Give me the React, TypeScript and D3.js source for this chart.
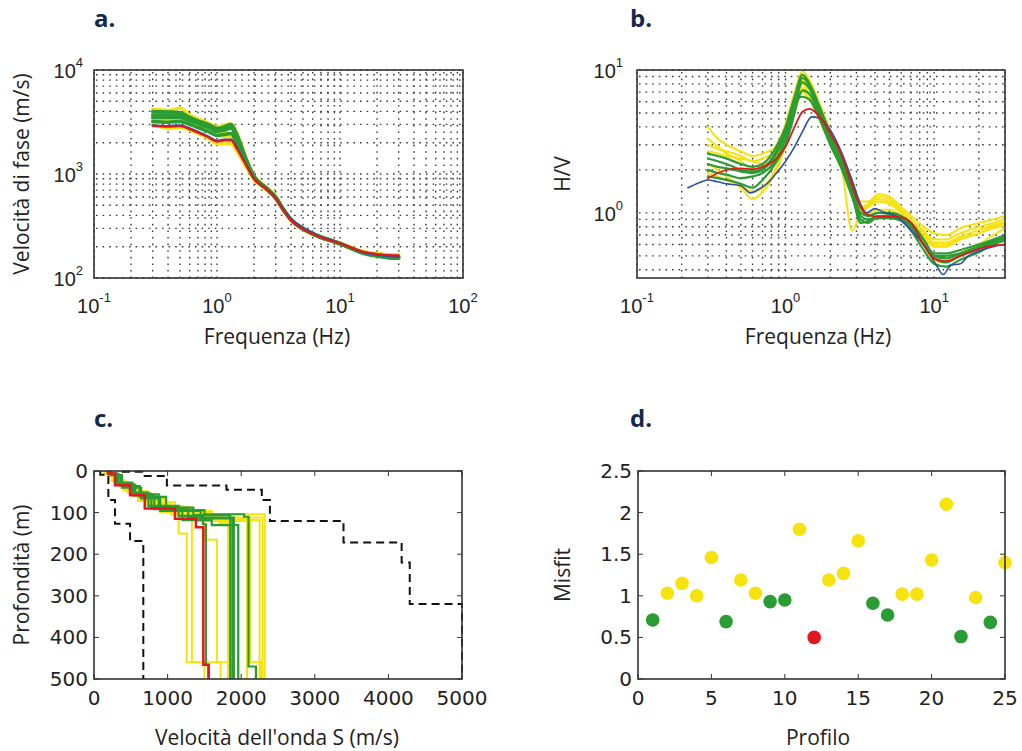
import React from 'react';
import * as d3 from 'd3';

// ---------- colours ----------
const YELLOW = '#f6e20c';
const GREEN = '#2a9c34';
const RED = '#e3171d';
const BLUE = '#2f4fa6';
const NAVY = '#14284b';

// ---------- panel a: phase velocity dispersion ----------
const freqA = [0.3, 0.4, 0.5, 0.6, 0.7, 0.85, 1.0, 1.15, 1.3, 1.45, 1.7, 2.0, 2.5, 3.0, 3.5, 4.0, 5.0, 6.0, 7.0, 8.5, 10, 12, 15, 20, 25, 30];
const yellowA = [
  [4200, 4100, 4300, 3700, 3400, 3100, 2850, 2950, 3050, 2500, 1500, 960, 760, 610, 455, 368, 302, 270, 250, 232, 218, 200, 182, 172, 168, 168],
  [3800, 3700, 3600, 3300, 3100, 2850, 2600, 2500, 2400, 2000, 1350, 920, 740, 600, 450, 364, 300, 268, 248, 230, 216, 199, 181, 171, 167, 166],
  [3000, 2750, 2800, 2650, 2450, 2200, 1950, 1950, 1950, 1650, 1200, 880, 710, 575, 438, 356, 292, 262, 243, 226, 211, 194, 176, 167, 163, 162],
  [3400, 3300, 3350, 3100, 2900, 2600, 2350, 2300, 2250, 1850, 1300, 900, 730, 590, 447, 362, 297, 266, 246, 229, 214, 197, 179, 169, 165, 164],
];
const greenA = [
  [4000, 3950, 3900, 3500, 3250, 3000, 2750, 2850, 3000, 2400, 1450, 950, 740, 600, 450, 365, 300, 268, 248, 230, 215, 195, 175, 162, 156, 155],
  [3700, 3700, 3650, 3350, 3150, 2900, 2650, 2750, 2850, 2300, 1400, 940, 735, 595, 447, 363, 299, 267, 247, 229, 214, 196, 176, 164, 158, 156],
  [3500, 3500, 3500, 3250, 3050, 2800, 2550, 2650, 2750, 2200, 1380, 930, 730, 590, 445, 362, 298, 266, 246, 229, 214, 196, 177, 165, 160, 158],
  [3200, 3150, 3200, 3000, 2800, 2550, 2350, 2400, 2450, 1950, 1320, 910, 725, 585, 443, 360, 296, 265, 245, 228, 213, 196, 178, 167, 162, 160],
];
const blueA = [2950, 2900, 2950, 2750, 2550, 2300, 2100, 2150, 2150, 1800, 1280, 910, 730, 590, 452, 372, 305, 272, 250, 232, 216, 198, 178, 166, 162, 160];
const redA = [2900, 2850, 2900, 2700, 2500, 2250, 2050, 2100, 2100, 1750, 1250, 900, 720, 580, 440, 360, 295, 265, 245, 228, 215, 198, 180, 170, 166, 165];

// ---------- panel b: H/V ----------
const freqB = [0.3, 0.35, 0.4, 0.5, 0.6, 0.7, 0.85, 1.0, 1.15, 1.3, 1.45, 1.7, 2.0, 2.4, 2.8, 3.2, 3.6, 4.2, 5, 6, 7, 8.5, 10, 12, 15, 20, 25, 30];
const yellowB = [
  [4.0, 3.3, 3.0, 2.7, 2.5, 2.6, 2.9, 4.2, 7.0, 9.8, 8.5, 5.8, 3.8, 2.5, 1.7, 1.2, 1.2, 1.35, 1.3, 1.1, 0.95, 0.8, 0.72, 0.7, 0.78, 0.85, 0.9, 0.95],
  [3.0, 2.8, 2.7, 2.5, 2.3, 2.4, 2.7, 3.9, 6.4, 9.0, 8.2, 5.6, 3.6, 2.3, 1.5, 1.05, 1.15, 1.3, 1.25, 1.05, 0.9, 0.75, 0.65, 0.65, 0.72, 0.8, 0.85, 0.9],
  [2.2, 2.0, 1.8, 1.5, 1.25, 1.4, 1.9, 3.0, 5.5, 8.5, 7.5, 5.0, 3.3, 2.0, 0.75, 1.0, 1.1, 1.2, 1.15, 1.0, 0.85, 0.68, 0.6, 0.6, 0.66, 0.72, 0.78, 0.82],
  [2.7, 2.6, 2.5, 2.4, 2.3, 2.2, 2.5, 3.4, 5.8, 8.0, 6.8, 4.6, 3.1, 2.1, 1.4, 1.1, 1.15, 1.25, 1.2, 1.05, 0.9, 0.72, 0.62, 0.62, 0.68, 0.76, 0.82, 0.86],
  [3.3, 2.9, 2.6, 2.3, 2.0, 2.1, 2.4, 3.2, 5.0, 7.0, 6.2, 4.4, 3.0, 2.0, 1.35, 1.0, 1.1, 1.2, 1.2, 1.0, 0.85, 0.68, 0.58, 0.58, 0.65, 0.72, 0.8, 0.85],
  [1.9, 1.8, 1.7, 1.55, 1.4, 1.5, 2.0, 3.1, 5.2, 7.5, 6.5, 4.8, 3.3, 2.2, 1.45, 1.0, 0.98, 1.05, 1.05, 0.95, 0.82, 0.6, 0.46, 0.45, 0.52, 0.6, 0.7, 0.78],
];
const greenB = [
  [2.6, 2.5, 2.4, 2.2, 2.1, 2.2, 2.8, 4.0, 6.5, 9.3, 8.0, 5.5, 3.6, 2.4, 1.6, 1.1, 0.95, 1.0, 1.0, 0.95, 0.85, 0.65, 0.5, 0.48, 0.52, 0.58, 0.63, 0.68],
  [2.2, 2.1, 2.05, 1.95, 1.9, 2.0, 2.5, 3.6, 5.8, 8.2, 7.4, 5.0, 3.4, 2.2, 1.45, 0.95, 0.9, 0.95, 0.95, 0.9, 0.8, 0.6, 0.48, 0.45, 0.5, 0.56, 0.62, 0.66],
  [2.0, 1.9, 1.85, 1.75, 1.8, 1.9, 2.3, 3.3, 5.2, 7.2, 6.8, 4.8, 3.2, 2.1, 1.35, 0.85, 0.88, 0.92, 0.92, 0.88, 0.75, 0.55, 0.44, 0.42, 0.47, 0.53, 0.6, 0.64],
  [2.4, 2.3, 2.2, 2.0, 1.95, 2.05, 2.6, 3.8, 6.0, 6.5, 6.2, 4.5, 3.0, 2.0, 1.3, 0.9, 0.85, 0.95, 0.95, 0.92, 0.82, 0.6, 0.5, 0.5, 0.52, 0.58, 0.64, 0.7],
  [1.8, 1.75, 1.7, 1.6, 1.5, 1.7, 2.2, 3.0, 5.0, 8.8, 7.8, 5.2, 3.5, 2.3, 1.5, 1.0, 0.95, 1.0, 0.98, 0.93, 0.85, 0.65, 0.52, 0.52, 0.55, 0.6, 0.65, 0.7],
];
const redB = [1.74, 1.9, 2.0, 2.05, 2.02, 2.1, 2.35, 2.9, 4.0, 5.1, 5.35, 4.7, 3.6, 2.5, 1.55, 1.1, 0.97, 0.94, 0.94, 0.93, 0.85, 0.6, 0.48, 0.46, 0.5, 0.56, 0.59, 0.6];
const freqBlueB = [0.22, 0.26, 0.3, 0.35, 0.4, 0.5, 0.58, 0.65, 0.75, 0.85, 1.0, 1.15, 1.3, 1.5, 1.7, 2.0, 2.4, 2.8, 3.2, 3.5, 4.0, 4.5, 5.5, 6.5, 7.5, 8.5, 9.5, 10.5, 11.5, 13, 15, 17, 20, 25, 30];
const blueB = [1.5, 1.62, 1.7, 1.65, 1.6, 1.55, 1.38, 1.45, 1.6, 1.85, 2.3, 2.9, 3.7, 4.7, 4.6, 3.8, 2.6, 1.7, 1.15, 1.0, 1.07, 1.02, 0.95, 0.82, 0.7, 0.6, 0.5, 0.42, 0.37, 0.43, 0.44, 0.5, 0.54, 0.58, 0.6];

// ---------- panel c: Vs profiles, layers as [velocity, bottom depth] ----------
const yellowC = [
  [[150, 5], [260, 22], [420, 42], [640, 68], [950, 95], [1350, 112], [2290, 500]],
  [[170, 7], [300, 28], [480, 48], [720, 75], [1100, 100], [1600, 118], [2250, 500]],
  [[140, 6], [240, 24], [400, 46], [600, 72], [900, 100], [1150, 150], [1260, 460], [1500, 500]],
  [[190, 9], [340, 34], [560, 58], [830, 88], [1250, 108], [1700, 125], [1820, 500]],
  [[160, 6], [290, 30], [470, 52], [760, 84], [1200, 110], [1500, 165], [1670, 460], [1900, 500]],
  [[180, 8], [320, 30], [540, 60], [900, 95], [1400, 120], [2080, 500]],
  [[150, 5], [270, 26], [450, 50], [700, 80], [1050, 105], [1330, 460], [1720, 500]],
  [[200, 10], [360, 36], [600, 64], [950, 96], [1600, 115], [2120, 460], [2270, 500]],
  [[165, 7], [310, 32], [500, 55], [800, 86], [1300, 104], [2320, 500]],
];
const greenC = [
  [[190, 6], [300, 30], [500, 52], [740, 84], [1150, 108], [1480, 128], [1520, 466], [1560, 500]],
  [[210, 8], [330, 33], [560, 56], [880, 88], [1350, 106], [1850, 500]],
  [[200, 7], [320, 32], [540, 58], [820, 92], [1280, 112], [1900, 500]],
  [[220, 9], [360, 36], [620, 62], [980, 94], [1500, 104], [2040, 110], [2100, 470], [2200, 500]],
  [[195, 6], [310, 28], [520, 55], [780, 90], [1200, 118], [1600, 130], [1960, 500]],
  [[230, 10], [380, 40], [640, 66], [900, 96], [1450, 114], [1880, 500]],
];
const redC = [[190, 6], [285, 34], [490, 58], [690, 90], [1100, 115], [1385, 135], [1485, 466], [1555, 500]];
const leftBoundC = [[85, 9], [195, 70], [285, 127], [490, 168], [670, 500]];
const rightBoundC = [[390, 2], [670, 12], [990, 35], [1800, 45], [2280, 70], [2390, 120], [3390, 172], [4180, 220], [4290, 320], [5000, 500]];

// ---------- panel d: misfit per profile ----------
const profiles = d3.range(1, 26);
const misfit = [0.71, 1.03, 1.15, 1.0, 1.46, 0.69, 1.19, 1.03, 0.93, 0.95, 1.8, 0.5, 1.19, 1.27, 1.66, 0.91, 0.77, 1.02, 1.02, 1.43, 2.1, 0.51, 0.98, 0.68, 1.4];
const misfitClass = ['g', 'y', 'y', 'y', 'y', 'g', 'y', 'y', 'g', 'g', 'y', 'r', 'y', 'y', 'y', 'g', 'g', 'y', 'y', 'y', 'y', 'g', 'y', 'g', 'y'];

const ticksA_x = [0.1, 1, 10, 100];
const ticksA_y = [100, 1000, 10000];
const ticksB_x = [0.1, 1, 10];
const ticksB_y = [1, 10];
const ticksC_x = [0, 1000, 2000, 3000, 4000, 5000];
const ticksC_y = [0, 100, 200, 300, 400, 500];
const ticksD_x = [0, 5, 10, 15, 20, 25];
const ticksD_y = [0, 0.5, 1, 1.5, 2, 2.5];

const TICK_FONT = '"Liberation Sans", Arial, sans-serif';
const TICK_FONT2 = '"DejaVu Sans", sans-serif';
const LABEL_FONT = '"Open Sans", sans-serif';

function logGridValues(lo: number, hi: number) {
  const out: number[] = [];
  for (let e = Math.floor(Math.log10(lo)); e <= Math.ceil(Math.log10(hi)); e++) {
    for (let k = 1; k <= 9; k++) {
      const v = k * Math.pow(10, e);
      if (v >= lo * 0.999 && v <= hi * 1.001) out.push(v);
    }
  }
  return out;
}

function Pow10({ x, y, v, anchor }: { x: number; y: number; v: number; anchor: string }) {
  const e = Math.round(Math.log10(v));
  return (
    <text x={x} y={y} textAnchor={anchor} fontFamily={TICK_FONT} fontSize={20} fill="#222">
      10<tspan dy={-11} fontSize={13}>{e}</tspan>
    </text>
  );
}

function LogPanel(props: any) {
  const { id, x, y, xTicks, yTicks, yLabelGap, children, xLabel, yLabel, xLabelX, yLabelX, title, titleX } = props;
  const [x0, x1] = x.range();
  const [y0, y1] = y.range(); // y0 bottom, y1 top
  const xd = x.domain();
  const yd = y.domain();
  const gx = logGridValues(xd[0], xd[1]);
  const gy = logGridValues(yd[0], yd[1]);
  return (
    <g>
      <defs>
        <clipPath id={id}>
          <rect x={x0} y={y1} width={x1 - x0} height={y0 - y1} />
        </clipPath>
      </defs>
      <rect x={x0} y={y1} width={x1 - x0} height={y0 - y1} fill="#fff" />
      <g stroke="#3a3a3a" strokeWidth={1.4} strokeDasharray="1.6,5">
        {gx.map((v: number) => (
          <line key={'gx' + v} x1={x(v)} x2={x(v)} y1={y1 + 2} y2={y0} />
        ))}
        {gy.map((v: number) => (
          <line key={'gy' + v} x1={x0 + 2} x2={x1} y1={y(v)} y2={y(v)} />
        ))}
      </g>
      <g clipPath={`url(#${id})`}>{children}</g>
      <rect x={x0} y={y1} width={x1 - x0} height={y0 - y1} fill="none" stroke="#333" strokeWidth={1.6} />
      {xTicks.map((v: number) => (
        <Pow10 key={'xt' + v} x={x(v)} y={y0 + 35} v={v} anchor="middle" />
      ))}
      {yTicks.map((v: number) => (
        <Pow10 key={'yt' + v} x={x0 - yLabelGap} y={y(v) + 8} v={v} anchor="end" />
      ))}
      <text x={xLabelX} y={y0 + 66} textAnchor="middle" fontFamily={LABEL_FONT} fontSize={21} fill="#222">{xLabel}</text>
      <text transform={`translate(${yLabelX},${(y0 + y1) / 2}) rotate(-90)`} textAnchor="middle" dy="0.35em" fontFamily={LABEL_FONT} fontSize={21} fill="#222">{yLabel}</text>
      <text x={titleX} y={27} fontFamily={LABEL_FONT} fontWeight={700} fontSize={24} fill={NAVY}>{title}</text>
    </g>
  );
}

function LinPanel(props: any) {
  const { x, y, xTicks, yTicks, xFmt, yFmt, children, xLabel, yLabel, xLabelX, yLabelX, title, titleX } = props;
  const [x0, x1] = x.range();
  const yr = y.range();
  const top = Math.min(yr[0], yr[1]);
  const bot = Math.max(yr[0], yr[1]);
  const tl = 5;
  return (
    <g>
      <rect x={x0} y={top} width={x1 - x0} height={bot - top} fill="#fff" />
      {children}
      <g stroke="#333" strokeWidth={1}>
        {xTicks.map((v: number) => (
          <g key={'xt' + v}>
            <line x1={x(v)} x2={x(v)} y1={bot} y2={bot - tl} />
            <line x1={x(v)} x2={x(v)} y1={top} y2={top + tl} />
          </g>
        ))}
        {yTicks.map((v: number) => (
          <g key={'yt' + v}>
            <line x1={x0} x2={x0 + tl} y1={y(v)} y2={y(v)} />
            <line x1={x1} x2={x1 - tl} y1={y(v)} y2={y(v)} />
          </g>
        ))}
      </g>
      <rect x={x0} y={top} width={x1 - x0} height={bot - top} fill="none" stroke="#333" strokeWidth={1.6} />
      {xTicks.map((v: number) => (
        <text key={'xl' + v} x={x(v)} y={bot + 26} textAnchor="middle" fontFamily={TICK_FONT2} fontSize={20} fill="#222">{xFmt(v)}</text>
      ))}
      {yTicks.map((v: number) => (
        <text key={'yl' + v} x={x0 - 6} y={y(v) + 7} textAnchor="end" fontFamily={TICK_FONT2} fontSize={20} fill="#222">{yFmt(v)}</text>
      ))}
      <text x={xLabelX} y={bot + 66} textAnchor="middle" fontFamily={LABEL_FONT} fontSize={21} fill="#222">{xLabel}</text>
      <text transform={`translate(${yLabelX},${(top + bot) / 2}) rotate(-90)`} textAnchor="middle" dy="0.35em" fontFamily={LABEL_FONT} fontSize={21} fill="#222">{yLabel}</text>
      <text x={titleX} y={top - 44} fontFamily={LABEL_FONT} fontWeight={700} fontSize={24} fill={NAVY}>{title}</text>
    </g>
  );
}

function stepPoints(layers: number[][]) {
  const pts: [number, number][] = [];
  let prev = 0;
  layers.forEach(([v, d]) => {
    pts.push([v, prev]);
    pts.push([v, d]);
    prev = d;
  });
  return pts;
}

export default function App() {
  // panel a
  const xA = d3.scaleLog().domain([0.1, 100]).range([94, 463]);
  const yA = d3.scaleLog().domain([100, 10000]).range([278, 70]);
  const lineA = (vals: number[]) =>
    d3.line<number>().x((_, i) => xA(freqA[i])).y((v) => yA(v)).curve(d3.curveMonotoneX)(vals) || '';

  // panel b
  const xB = d3.scaleLog().domain([0.1, 30]).range([637, 1005]);
  const yB = d3.scaleLog().domain([0.35, 10]).range([278, 70]);
  const lineB = (fs: number[], vals: number[]) =>
    d3.line<number>().x((_, i) => xB(fs[i])).y((v) => yB(v)).curve(d3.curveMonotoneX)(vals) || '';

  // panel c
  const xC = d3.scaleLinear().domain([0, 5000]).range([94, 462]);
  const yC = d3.scaleLinear().domain([0, 500]).range([471, 679]);
  const stepC = (layers: number[][]) =>
    d3.line<[number, number]>().x((p) => xC(p[0])).y((p) => yC(p[1]))(stepPoints(layers)) || '';

  // panel d
  const xD = d3.scaleLinear().domain([0, 25]).range([638, 1005]);
  const yD = d3.scaleLinear().domain([0, 2.5]).range([679, 471]);
  const colorD: Record<string, string> = { g: GREEN, y: YELLOW, r: RED };

  return (
    <svg width={1022} height={751} style={{ position: 'absolute', left: 0, top: 0, background: '#fff' }}>
      <rect width={1022} height={751} fill="#fff" />
      <LogPanel id="clipA" x={xA} y={yA} xTicks={ticksA_x} yTicks={ticksA_y} yLabelGap={11}
        xLabel="Frequenza (Hz)" yLabel="Velocità di fase (m/s)" xLabelX={277} yLabelX={22} title="a." titleX={94}>
        <g fill="none" strokeLinejoin="round" strokeLinecap="round">
          {yellowA.map((s, i) => <path key={'ya' + i} d={lineA(s)} stroke={YELLOW} strokeWidth={3.2} />)}
          {greenA.map((s, i) => <path key={'ga' + i} d={lineA(s)} stroke={GREEN} strokeWidth={3.5} />)}
          <path d={lineA(blueA)} stroke={BLUE} strokeWidth={2} />
          <path d={lineA(redA)} stroke={RED} strokeWidth={2.2} />
        </g>
      </LogPanel>

      <LogPanel id="clipB" x={xB} y={yB} xTicks={ticksB_x} yTicks={ticksB_y} yLabelGap={14}
        xLabel="Frequenza (Hz)" yLabel="H/V" xLabelX={818} yLabelX={563} title="b." titleX={630}>
        <g fill="none" strokeLinejoin="round" strokeLinecap="round">
          {yellowB.map((s, i) => <path key={'yb' + i} d={lineB(freqB, s)} stroke={YELLOW} strokeWidth={2} />)}
          {greenB.map((s, i) => <path key={'gb' + i} d={lineB(freqB, s)} stroke={GREEN} strokeWidth={2.2} />)}
          <path d={lineB(freqBlueB, blueB)} stroke={BLUE} strokeWidth={1.6} />
          <path d={lineB(freqB, redB)} stroke={RED} strokeWidth={1.8} />
        </g>
      </LogPanel>

      <LinPanel x={xC} y={yC} xTicks={ticksC_x} yTicks={ticksC_y} xFmt={(v: number) => String(v)} yFmt={(v: number) => String(v)}
        xLabel="Velocità dell'onda S (m/s)" yLabel="Profondità (m)" xLabelX={277} yLabelX={22} title="c." titleX={94}>
        <g fill="none">
          {yellowC.map((s, i) => <path key={'yc' + i} d={stepC(s)} stroke={YELLOW} strokeWidth={2} />)}
          {greenC.map((s, i) => <path key={'gc' + i} d={stepC(s)} stroke={GREEN} strokeWidth={2.2} />)}
          <path d={stepC(redC)} stroke={RED} strokeWidth={2.5} />
          <path d={stepC(leftBoundC)} stroke="#111" strokeWidth={2} strokeDasharray="8,5" />
          <path d={stepC(rightBoundC)} stroke="#111" strokeWidth={2} strokeDasharray="8,5" />
        </g>
      </LinPanel>

      <LinPanel x={xD} y={yD} xTicks={ticksD_x} yTicks={ticksD_y} xFmt={(v: number) => String(v)} yFmt={(v: number) => String(v)}
        xLabel="Profilo" yLabel="Misfit" xLabelX={818} yLabelX={563} title="d." titleX={630}>
        {profiles.map((p, i) => (
          <circle key={'pd' + p} cx={xD(p)} cy={yD(misfit[i])} r={6.8} fill={colorD[misfitClass[i]]} />
        ))}
      </LinPanel>
    </svg>
  );
}
